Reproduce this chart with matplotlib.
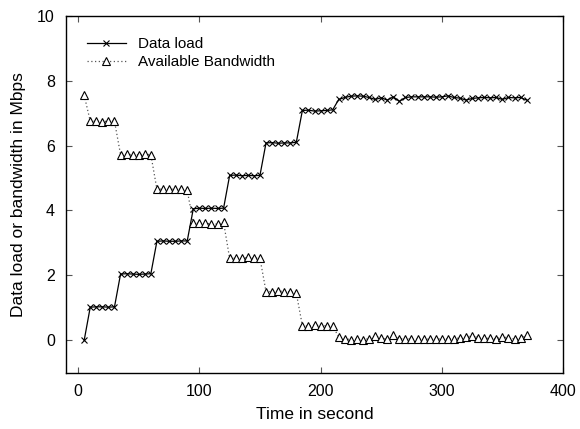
import numpy as np
import matplotlib.pyplot as plt

plt.rcParams['font.family'] = ['Liberation Sans', 'DejaVu Sans']

# 采样时间(秒), 每5秒一个点
t = list(range(5, 375, 5))

# 数据负载 (Mbps)
data_load = [0.0,
             1.02, 1.03, 1.03, 1.02, 1.03,
             2.04, 2.05, 2.04, 2.03, 2.04, 2.05,
             3.05, 3.06, 3.05, 3.05, 3.06, 3.06,
             4.05, 4.07, 4.06, 4.07, 4.06, 4.07,
             5.08, 5.09, 5.07, 5.08, 5.07, 5.08,
             6.08, 6.09, 6.07, 6.08, 6.08, 6.10,
             7.08, 7.09, 7.06, 7.07, 7.08, 7.10,
             7.42, 7.48, 7.52, 7.53, 7.52, 7.48, 7.42, 7.47,
             7.40, 7.50, 7.36, 7.48, 7.50, 7.50, 7.50, 7.50,
             7.49, 7.50, 7.53, 7.48, 7.46, 7.40, 7.45, 7.47,
             7.48, 7.47, 7.48, 7.42, 7.48, 7.47, 7.48, 7.40]

# 可用带宽 (Mbps)
bandwidth = [7.55,
             6.75, 6.75, 6.74, 6.75, 6.75,
             5.72, 5.73, 5.72, 5.72, 5.73, 5.72,
             4.65, 4.66, 4.66, 4.65, 4.66, 4.62,
             3.62, 3.60, 3.60, 3.59, 3.58, 3.63,
             2.52, 2.53, 2.52, 2.55, 2.53, 2.53,
             1.50, 1.50, 1.52, 1.50, 1.50, 1.45,
             0.45, 0.44, 0.47, 0.45, 0.45, 0.44,
             0.10, 0.05, 0.02, 0.03, 0.02, 0.05, 0.12, 0.08,
             0.03, 0.15, 0.05, 0.05, 0.04, 0.03, 0.03, 0.04,
             0.03, 0.05, 0.04, 0.05, 0.07, 0.10, 0.14, 0.08,
             0.06, 0.06, 0.05, 0.10, 0.08, 0.04, 0.06, 0.15]

fig = plt.figure(figsize=(5.8, 4.29), dpi=100)
ax = fig.add_axes([0.1138, 0.1312, 0.8569, 0.8322])

ax.plot(t, data_load, color='black', linewidth=0.9, marker='x',
        markersize=5, markeredgewidth=0.8, label='Data load')
ax.plot(t, bandwidth, color='#555555', linewidth=0.9, linestyle=(0, (1, 2)),
        marker='^', markersize=5.5, markerfacecolor='white',
        markeredgecolor='black', markeredgewidth=0.8,
        label='Available Bandwidth')

ax.set_xlim(-10, 400)
ax.set_ylim(-1, 10)
ax.set_xticks([0, 100, 200, 300, 400])
ax.set_yticks([0, 2, 4, 6, 8, 10])
ax.tick_params(direction='in', length=4, width=0.8, color='#555555',
               top=True, right=True, labelsize=11.5, pad=8)

ax.set_xlabel('Time in second', fontsize=12.5, labelpad=6)
ax.set_ylabel('Data load or bandwidth in Mbps', fontsize=12.5, labelpad=8)

for s in ax.spines.values():
    s.set_linewidth(1.0)

ax.legend(loc='upper left', frameon=False, fontsize=11, handlelength=2.5,
          handletextpad=0.8, borderaxespad=1.0, labelspacing=0.25)

plt.savefig('out.png', dpi=100)
